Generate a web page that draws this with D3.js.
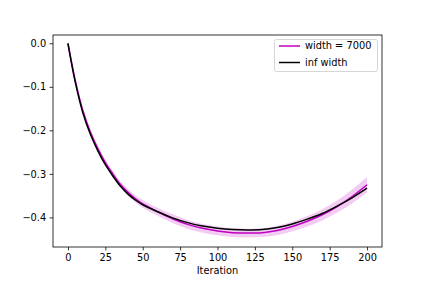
<!DOCTYPE html>
<html>
<head>
<meta charset="utf-8">
<script src="https://cdn.jsdelivr.net/npm/d3@7"></script>
<style>
  body { margin: 0; background: #fff; }
  #chart { width: 423px; height: 282px; }
  .axis text { font-family: "DejaVu Sans", sans-serif; font-size: 9.8px; fill: #000; }
  .axis path, .axis line { stroke: #000; stroke-width: 0.8px; }
  .legenda { font-family: "DejaVu Sans", sans-serif; font-size: 9.8px; fill: #000; }
</style>
</head>
<body>
<div id="chart"></div>
<script>
//** data
const iterations = [0, 5, 10, 15, 20, 25, 30, 35, 40, 45, 50, 60, 70, 80, 90, 100,
  110, 120, 130, 140, 150, 160, 170, 180, 190, 200];
const infWidth = [0, -0.091, -0.160, -0.209, -0.247, -0.279, -0.305, -0.328, -0.346,
  -0.360, -0.371, -0.387, -0.401, -0.412, -0.420, -0.425, -0.428, -0.429, -0.428,
  -0.423, -0.415, -0.404, -0.391, -0.374, -0.355, -0.333];
const width7000 = [0, -0.087, -0.155, -0.204, -0.242, -0.274, -0.300, -0.324, -0.342,
  -0.357, -0.369, -0.387, -0.403, -0.416, -0.425, -0.431, -0.435, -0.436, -0.435,
  -0.430, -0.421, -0.409, -0.394, -0.375, -0.352, -0.325];
const width7000Spread = [0, 0.003, 0.004, 0.005, 0.006, 0.006, 0.007, 0.007, 0.008,
  0.008, 0.009, 0.009, 0.010, 0.010, 0.010, 0.010, 0.010, 0.010, 0.010, 0.011,
  0.011, 0.012, 0.013, 0.014, 0.016, 0.018];
const xTicks = [0, 25, 50, 75, 100, 125, 150, 175, 200];
const yTicks = [0, -0.1, -0.2, -0.3, -0.4];
const seriesNames = ['width = 7000', 'inf width'];
const seriesColors = ['#bf00bf', '#000000'];

class BandChart {
  constructor(settings) {
    this.ss = {};
    for (let m in settings) {
      this.ss[m] = settings[m];
    }
    this.w = this.ss.width - this.ss.margins.left - this.ss.margins.right;
    this.h = this.ss.height - this.ss.margins.top - this.ss.margins.bottom;
    this.createMainG();
    this.createScales();
    this.renderChart();
    this.createAxis();
    this.renderLegenda();
  }

  //** create main container
  createMainG() {
    this.svg = d3.select(this.ss.node).append('svg')
      .attr('width', this.ss.width)
      .attr('height', this.ss.height);
    this.g = this.svg.append('g')
      .attr('transform', 'translate(' + this.ss.margins.left + ',' + this.ss.margins.top + ')');
  }

  createScales() {
    this.x = d3.scaleLinear().domain([-10, 210]).range([0, this.w]);
    this.y = d3.scaleLinear().domain([-0.468, 0.019]).range([this.h, 0]);
  }

  createAxis() {
    let minus = d => d3.format('.1f')(d).replace('-', '\u2212');
    this.xAxis = d3.axisBottom(this.x).tickValues(xTicks).tickSize(3.4).tickPadding(3.4);
    this.g.append('g')
      .attr('class', 'xx axis')
      .attr('transform', 'translate(0,' + this.h + ')')
      .call(this.xAxis)
      .call(g => g.select('.domain').remove());

    this.yAxis = d3.axisLeft(this.y).tickValues(yTicks).tickFormat(minus).tickSize(3.4).tickPadding(3.4);
    this.g.append('g')
      .attr('class', 'yy axis')
      .call(this.yAxis)
      .call(g => g.select('.domain').remove());

    //** frame
    this.g.append('rect')
      .attr('width', this.w)
      .attr('height', this.h)
      .attr('fill', 'none')
      .attr('stroke', '#000')
      .attr('stroke-width', 0.8);

    this.g.append('text')
      .attr('class', 'legenda')
      .attr('x', this.w / 2)
      .attr('y', this.h + 27)
      .attr('text-anchor', 'middle')
      .text('Iteration');
  }

  //** render band and lines
  renderChart() {
    let scope = this;
    let band = d3.area()
      .x((d, i) => scope.x(iterations[i]))
      .y0((d, i) => scope.y(d - width7000Spread[i]))
      .y1((d, i) => scope.y(d + width7000Spread[i]))
      .curve(d3.curveCatmullRom);
    let line = d3.line()
      .x((d, i) => scope.x(iterations[i]))
      .y(d => scope.y(d))
      .curve(d3.curveCatmullRom);

    this.g.append('path')
      .attr('d', band(width7000))
      .attr('fill', seriesColors[0])
      .attr('fill-opacity', 0.2);

    [width7000, infWidth].forEach((s, k) => {
      scope.g.append('path')
        .attr('d', line(s))
        .attr('fill', 'none')
        .attr('stroke', seriesColors[k])
        .attr('stroke-width', 1.5);
    });
  }

  //** LEGENDA
  renderLegenda() {
    let gl = this.g.append('g')
      .attr('transform', 'translate(' + (this.w - 108) + ',4)');
    gl.append('rect')
      .attr('x', 0.5)
      .attr('y', 0.5)
      .attr('width', 103)
      .attr('height', 32)
      .attr('rx', 2)
      .attr('fill', '#fff')
      .attr('fill-opacity', 0.8)
      .attr('stroke', '#ccc')
      .attr('stroke-width', 0.8);
    seriesNames.forEach((name, i) => {
      let item = gl.append('g')
        .attr('transform', 'translate(5,' + (7 + i * 16.5) + ')');
      item.append('line')
        .attr('x1', 0)
        .attr('x2', 21)
        .attr('stroke', seriesColors[i])
        .attr('stroke-width', 1.5);
      item.append('text')
        .attr('class', 'legenda')
        .attr('x', 26)
        .attr('dy', '0.35em')
        .text(name);
    });
  }
}

new BandChart({
  node: '#chart',
  width: 423,
  height: 282,
  margins: { top: 35, right: 41, bottom: 35, left: 53 }
});
</script>
</body>
</html>
